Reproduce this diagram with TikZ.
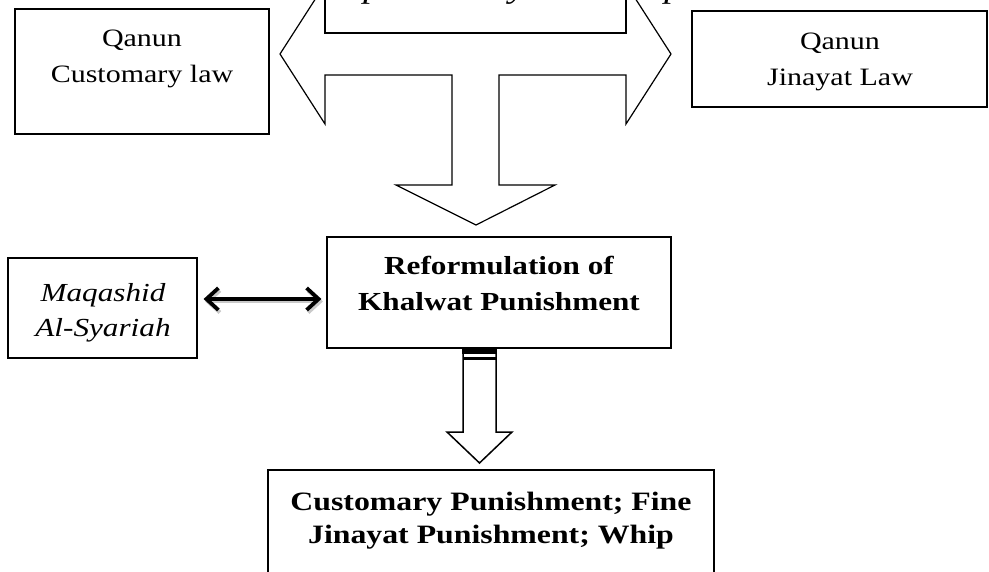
\documentclass[tikz,border=0pt]{standalone}
\usepackage{fontspec}
\setmainfont{Liberation Serif}[FakeStretch=1.2]
\usetikzlibrary{arrows.meta}
\tikzset{
  box/.style={draw=black, line width=1.2pt, fill=white, inner sep=0pt},
  lbl/.style={align=center, inner sep=0pt, font=\fontsize{25}{36}\selectfont},
  blbl/.style={align=center, inner sep=0pt, font=\fontsize{26}{36}\selectfont\bfseries},
  ilbl/.style={align=center, inner sep=0pt, font=\fontsize{26}{35}\selectfont\itshape},
  toplbl/.style={inner sep=0pt, font=\fontsize{32}{32}\selectfont\itshape, anchor=base},
  hollow/.style={draw=black, line width=1.2pt, fill=white, line join=miter},
  dbl/.style={line width=3.8pt, {Straight Barb[length=12pt,width=22pt]}-{Straight Barb[length=12pt,width=22pt]}},
}
\begin{document}
\begin{tikzpicture}[x=1pt,y=-1pt]
\useasboundingbox (0,0) rectangle (989,572);
\clip (0,0) rectangle (989,572);
\fill[white] (0,0) rectangle (989,572);

% big T-shaped double arrow
\draw[hollow] (280,54) -- (325,-16) -- (325,33) -- (626,33) -- (626,-16) -- (671,54)
  -- (626,124) -- (626,75) -- (499,75) -- (499,185) -- (555,185) -- (476,225)
  -- (396,185) -- (452,185) -- (452,75) -- (325,75) -- (325,124) -- cycle;
% top box (cut off)
\node[box, minimum width=301pt, minimum height=73pt] (top) at (475.5,-3.5) {};
\node[toplbl] (tp1) at (373,-2) {p};
\node[toplbl] (tp2) at (518,-2) {y};
\node[toplbl] (tp3) at (674,-2) {p};

% left box
\node[box, minimum width=254pt, minimum height=125pt] (cl) at (142,71.5) {};
\node[lbl, anchor=base] (clt) at (142,83) {Qanun\\Customary law};

% right box
\node[box, minimum width=295pt, minimum height=96pt] (jl) at (839.5,59) {};
\node[lbl, anchor=base] (jlt) at (840,86) {Qanun\\Jinayat Law};

% reformulation box
\node[box, minimum width=344pt, minimum height=111pt] (ref) at (499,292.5) {};
\node[blbl, anchor=base] (reft) at (499,311) {Reformulation of\\Khalwat Punishment};

% maqashid box
\node[box, minimum width=189pt, minimum height=100pt] (maq) at (102.5,308) {};
\node[ilbl, anchor=base] (maqt) at (103,337) {Maqashid\\Al-Syariah};

% double arrow with soft shadow
\coordinate (dy) at (0,299);
\draw[dbl, draw=black!35, opacity=0.6, transform canvas={xshift=1.5pt,yshift=-2.5pt}] ([xshift=6pt]maq.east |- dy) -- ([xshift=-5pt]ref.west |- dy);
\draw[dbl] ([xshift=6pt]maq.east |- dy) -- ([xshift=-5pt]ref.west |- dy);

% lower hollow arrow
\draw[hollow, line width=1.5pt] (463,350) -- (463,432) -- (447,432) -- (479.5,463) -- (512,432) -- (496,432) -- (496,350) -- cycle;
\fill[black] (462.3,349.5) rectangle (496.7,354);
\draw[black, line width=3.5pt] (463,358.5) -- (496,358.5);

% bottom box (cut off)
\node[box, minimum width=446pt, minimum height=130pt] (bot) at (491,535) {};
\node[blbl, anchor=base, font=\fontsize{26.5}{33}\selectfont\bfseries] (bott) at (491,543) {Customary Punishment; Fine\\Jinayat Punishment; Whip};
\end{tikzpicture}
\end{document}
